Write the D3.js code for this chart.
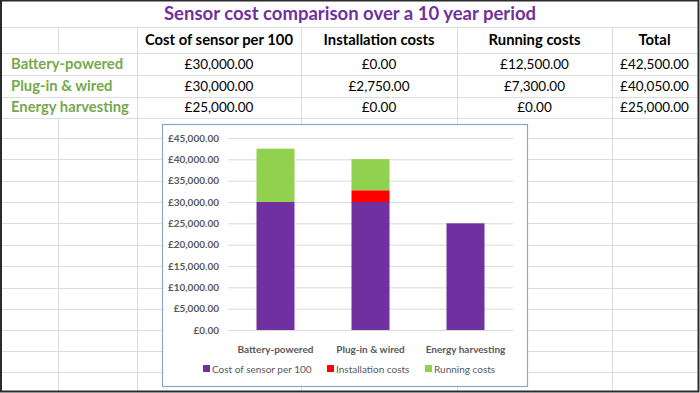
<!DOCTYPE html>
<html>
<head>
<meta charset="utf-8">
<style>
  body { margin: 0; background: #fff; }
  text { font-family: Lato, "Open Sans", sans-serif; }
</style>
</head>
<body>
<script src="https://cdn.jsdelivr.net/npm/d3@7"></script>
<script>

var title = "Sensor cost comparison over a 10 year period";
var categories = ["Battery-powered", "Plug-in & wired", "Energy harvesting"];
var seriesNames = ["Cost of sensor per 100", "Installation costs", "Running costs"];
var sensorCost = [30000, 30000, 25000];
var installCost = [0, 2750, 0];
var runningCost = [12500, 7300, 0];
var colors = ["#7030A0", "#FF0000", "#92D050"];

var W = 700, H = 393;
var money = function(v) { return "£" + d3.format(",.2f")(v); };

var svg = d3.select("body").append("svg")
    .attr("width", W)
    .attr("height", H);

svg.append("rect").attr("width", W).attr("height", H).attr("fill", "#fff");

// spreadsheet grid
var colX = [2, 58, 137, 301, 457, 612, 697];
var rowY = [27, 53, 75, 97, 118, 138, 159, 181, 202, 223, 245, 266, 288, 309, 330, 351, 372];
var grid = svg.append("g").attr("stroke", "#DADCDD").attr("stroke-width", 1);

rowY.forEach(function(y) {
  grid.append("line").attr("x1", 2).attr("x2", 697).attr("y1", y + 0.5).attr("y2", y + 0.5);
});
colX.slice(1, -1).forEach(function(x, i) {
  if (i == 0) {
    // column B line is hidden where row labels overflow
    grid.append("line").attr("x1", x + 0.5).attr("x2", x + 0.5).attr("y1", 27).attr("y2", 53);
    grid.append("line").attr("x1", x + 0.5).attr("x2", x + 0.5).attr("y1", 118).attr("y2", 391);
  } else {
    grid.append("line").attr("x1", x + 0.5).attr("x2", x + 0.5).attr("y1", 27).attr("y2", 391);
  }
});

// title
svg.append("text")
    .attr("x", 350).attr("y", 20)
    .attr("text-anchor", "middle")
    .attr("font-size", 18.5).attr("font-weight", "bold")
    .attr("fill", "#7030A0")
    .text(title);

// header row
var colCenter = [];
for (var i = 2; i < colX.length - 1; i++) colCenter.push((colX[i] + colX[i + 1]) / 2);
var headers = seriesNames.concat(["Total"]);
svg.append("g").selectAll("text")
    .data(headers)
  .join("text")
    .attr("x", function(d, i) { return colCenter[i]; })
    .attr("y", 45)
    .attr("text-anchor", "middle")
    .attr("font-size", 14.8).attr("font-weight", "bold")
    .attr("fill", "#000")
    .text(function(d) { return d; });

// data rows
var rowMid = [69, 91, 112];
categories.forEach(function(c, r) {
  var vals = [sensorCost[r], installCost[r], runningCost[r], sensorCost[r] + installCost[r] + runningCost[r]];
  var g = svg.append("g");
  g.append("text")
      .attr("x", 11).attr("y", rowMid[r])
      .attr("font-size", 14.8).attr("font-weight", "bold")
      .attr("fill", "#77A84E")
      .text(c);
  g.selectAll("text.v")
      .data(vals)
    .join("text")
      .attr("class", "v")
      .attr("x", function(d, i) { return colCenter[i]; })
      .attr("y", rowMid[r])
      .attr("text-anchor", "middle")
      .attr("font-size", 13.5)
      .attr("fill", "#000")
      .text(money);
});

// chart box
var chart = svg.append("g");
chart.append("rect")
    .attr("x", 162.5).attr("y", 124.5)
    .attr("width", 365).attr("height", 262)
    .attr("fill", "#fff")
    .attr("stroke", "#8FA6BE").attr("stroke-width", 1.2);

var y = d3.scaleLinear().domain([0, 45000]).range([330, 138]);
var x = d3.scaleBand().domain(categories).range([228, 513]).paddingInner(0.6).paddingOuter(0.3);

var yAxis = chart.append("g")
    .attr("transform", "translate(228,0)")
    .call(d3.axisLeft(y).ticks(9).tickFormat(money).tickSize(-285).tickPadding(9));
yAxis.select(".domain").remove();
yAxis.selectAll(".tick line").attr("stroke", "#D9D9D9");
yAxis.selectAll(".tick text")
    .attr("fill", "#595959")
    .attr("font-size", 10)
    .attr("font-weight", "bold")
    .attr("font-family", "Lato, sans-serif");

var table = categories.map(function(c, i) {
  return { cat: c, s0: sensorCost[i], s1: installCost[i], s2: runningCost[i] };
});
var stack = d3.stack().keys(["s0", "s1", "s2"]);
var layers = stack(table);

chart.append("g").selectAll("g")
    .data(layers)
  .join("g")
    .attr("fill", function(d, i) { return colors[i]; })
  .selectAll("rect")
    .data(function(d) { return d; })
  .join("rect")
    .attr("x", function(d) { return x(d.data.cat); })
    .attr("width", x.bandwidth())
    .attr("y", function(d) { return y(d[1]); })
    .attr("height", function(d) { return y(d[0]) - y(d[1]); });

var xAxis = chart.append("g")
    .attr("transform", "translate(0,330)")
    .call(d3.axisBottom(x).tickSize(0).tickPadding(16));
xAxis.select(".domain").remove();
xAxis.selectAll(".tick text")
    .attr("fill", "#595959")
    .attr("font-size", 10)
    .attr("font-weight", "bold")
    .attr("font-family", "Lato, sans-serif");

// legend
var legX = [203, 327, 425];
var leg = chart.append("g").selectAll("g")
    .data(seriesNames)
  .join("g")
    .attr("transform", function(d, i) { return "translate(" + legX[i] + ",369)"; });
leg.append("rect")
    .attr("x", 0).attr("y", -4).attr("width", 7).attr("height", 7)
    .attr("fill", function(d, i) { return colors[i]; });
leg.append("text")
    .attr("x", 9).attr("y", 3.5)
    .attr("font-size", 10)
    .attr("fill", "#595959")
    .text(function(d) { return d; });

// outer frame
svg.append("rect")
    .attr("x", 1).attr("y", 0.5).attr("width", W - 2.5).attr("height", H - 2)
    .attr("fill", "none")
    .attr("stroke", "#2b2b2b").attr("stroke-width", 2);

</script>
</body>
</html>
